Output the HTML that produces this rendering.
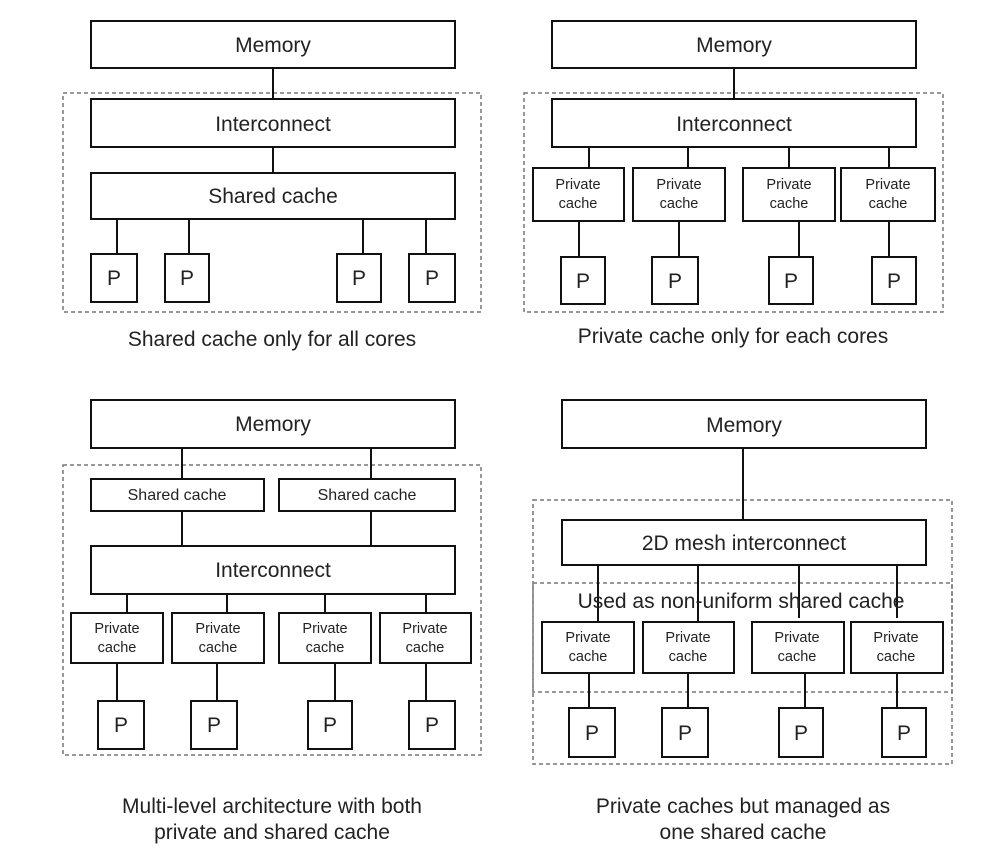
<!DOCTYPE html>
<html><head><meta charset="utf-8"><style>
html,body{margin:0;padding:0;background:#fff;}
svg{display:block;}
text{font-family:"Liberation Sans",sans-serif;fill:#222;text-anchor:middle;}
.b{fill:#fff;stroke:#111;stroke-width:2;}
.d{fill:none;stroke:#777;stroke-width:1.5;stroke-dasharray:4,3;}
.l{stroke:#111;stroke-width:2;}
.t{font-size:21px;}
.s{font-size:14.5px;}
.m{font-size:16px;}
.c{font-size:21px;}
</style></head><body>
<svg width="1002" height="860" viewBox="0 0 1002 860">
<!-- TL -->
<rect class="d" x="63" y="93" width="418" height="219"/>
<line class="l" x1="273" y1="68" x2="273" y2="99"/>
<line class="l" x1="273" y1="147" x2="273" y2="173"/>
<line class="l" x1="117" y1="219" x2="117" y2="254"/>
<line class="l" x1="189" y1="219" x2="189" y2="254"/>
<line class="l" x1="363" y1="219" x2="363" y2="254"/>
<line class="l" x1="426" y1="219" x2="426" y2="254"/>
<rect class="b" x="91" y="21" width="364" height="47"/><text class="t" x="273" y="52">Memory</text>
<rect class="b" x="91" y="99" width="364" height="48"/><text class="t" x="273" y="131">Interconnect</text>
<rect class="b" x="91" y="173" width="364" height="46"/><text class="t" x="273" y="203">Shared cache</text>
<rect class="b" x="91" y="254" width="46" height="48"/><text class="t" x="114" y="285">P</text>
<rect class="b" x="165" y="254" width="44" height="48"/><text class="t" x="187" y="285">P</text>
<rect class="b" x="337" y="254" width="44" height="48"/><text class="t" x="359" y="285">P</text>
<rect class="b" x="409" y="254" width="46" height="48"/><text class="t" x="432" y="285">P</text>
<text class="c" x="272" y="346">Shared cache only for all cores</text>
<!-- TR -->
<rect class="d" x="524" y="93" width="419" height="219"/>
<line class="l" x1="734" y1="68" x2="734" y2="99"/>
<line class="l" x1="589" y1="147" x2="589" y2="168"/>
<line class="l" x1="688" y1="147" x2="688" y2="168"/>
<line class="l" x1="789" y1="147" x2="789" y2="168"/>
<line class="l" x1="889" y1="147" x2="889" y2="168"/>
<line class="l" x1="579" y1="221" x2="579" y2="257"/>
<line class="l" x1="679" y1="221" x2="679" y2="257"/>
<line class="l" x1="799" y1="221" x2="799" y2="257"/>
<line class="l" x1="889" y1="221" x2="889" y2="257"/>
<rect class="b" x="552" y="21" width="364" height="47"/><text class="t" x="734" y="52">Memory</text>
<rect class="b" x="552" y="99" width="364" height="48"/><text class="t" x="734" y="131">Interconnect</text>
<rect class="b" x="533" y="168" width="91" height="53"/><text class="s" x="578" y="189">Private</text><text class="s" x="578" y="208">cache</text>
<rect class="b" x="633" y="168" width="92" height="53"/><text class="s" x="679" y="189">Private</text><text class="s" x="679" y="208">cache</text>
<rect class="b" x="743" y="168" width="92" height="53"/><text class="s" x="789" y="189">Private</text><text class="s" x="789" y="208">cache</text>
<rect class="b" x="841" y="168" width="94" height="53"/><text class="s" x="888" y="189">Private</text><text class="s" x="888" y="208">cache</text>
<rect class="b" x="561" y="257" width="44" height="47"/><text class="t" x="583" y="288">P</text>
<rect class="b" x="652" y="257" width="46" height="47"/><text class="t" x="675" y="288">P</text>
<rect class="b" x="769" y="257" width="44" height="47"/><text class="t" x="791" y="288">P</text>
<rect class="b" x="872" y="257" width="44" height="47"/><text class="t" x="894" y="288">P</text>
<text class="c" x="733" y="343">Private cache only for each cores</text>
<!-- BL -->
<rect class="d" x="63" y="465" width="418" height="290"/>
<line class="l" x1="182" y1="448" x2="182" y2="479"/>
<line class="l" x1="371" y1="448" x2="371" y2="479"/>
<line class="l" x1="182" y1="511" x2="182" y2="546"/>
<line class="l" x1="371" y1="511" x2="371" y2="546"/>
<line class="l" x1="127" y1="594" x2="127" y2="613"/>
<line class="l" x1="227" y1="594" x2="227" y2="613"/>
<line class="l" x1="325" y1="594" x2="325" y2="613"/>
<line class="l" x1="426" y1="594" x2="426" y2="613"/>
<line class="l" x1="117" y1="663" x2="117" y2="701"/>
<line class="l" x1="217" y1="663" x2="217" y2="701"/>
<line class="l" x1="335" y1="663" x2="335" y2="701"/>
<line class="l" x1="426" y1="663" x2="426" y2="701"/>
<rect class="b" x="91" y="400" width="364" height="48"/><text class="t" x="273" y="431">Memory</text>
<rect class="b" x="91" y="479" width="173" height="32"/><text class="m" x="177" y="500">Shared cache</text>
<rect class="b" x="279" y="479" width="176" height="32"/><text class="m" x="367" y="500">Shared cache</text>
<rect class="b" x="91" y="546" width="364" height="48"/><text class="t" x="273" y="577">Interconnect</text>
<rect class="b" x="71" y="613" width="92" height="50"/><text class="s" x="117" y="633">Private</text><text class="s" x="117" y="652">cache</text>
<rect class="b" x="172" y="613" width="92" height="50"/><text class="s" x="218" y="633">Private</text><text class="s" x="218" y="652">cache</text>
<rect class="b" x="279" y="613" width="92" height="50"/><text class="s" x="325" y="633">Private</text><text class="s" x="325" y="652">cache</text>
<rect class="b" x="380" y="613" width="91" height="50"/><text class="s" x="425" y="633">Private</text><text class="s" x="425" y="652">cache</text>
<rect class="b" x="98" y="701" width="46" height="48"/><text class="t" x="121" y="732">P</text>
<rect class="b" x="191" y="701" width="46" height="48"/><text class="t" x="214" y="732">P</text>
<rect class="b" x="308" y="701" width="44" height="48"/><text class="t" x="330" y="732">P</text>
<rect class="b" x="409" y="701" width="46" height="48"/><text class="t" x="432" y="732">P</text>
<text class="c" x="272" y="813">Multi-level architecture with both</text>
<text class="c" x="272" y="839">private and shared cache</text>
<!-- BR -->
<rect class="d" x="533" y="500" width="419" height="264"/>
<rect class="d" x="533" y="583" width="419" height="109"/>
<line class="l" x1="743" y1="448" x2="743" y2="520"/>
<line class="l" x1="598" y1="565" x2="598" y2="622"/>
<line class="l" x1="698" y1="565" x2="698" y2="622"/>
<line class="l" x1="799" y1="565" x2="799" y2="618"/>
<line class="l" x1="897" y1="565" x2="897" y2="618"/>
<line class="l" x1="589" y1="673" x2="589" y2="708"/>
<line class="l" x1="688" y1="673" x2="688" y2="708"/>
<line class="l" x1="805" y1="673" x2="805" y2="708"/>
<line class="l" x1="897" y1="673" x2="897" y2="708"/>
<rect class="b" x="562" y="400" width="364" height="48"/><text class="t" x="744" y="432">Memory</text>
<rect class="b" x="562" y="520" width="364" height="45"/><text class="t" x="744" y="550">2D mesh interconnect</text>
<text class="t" x="741" y="608">Used as non-uniform shared cache</text>
<rect class="b" x="542" y="622" width="92" height="51"/><text class="s" x="588" y="642">Private</text><text class="s" x="588" y="661">cache</text>
<rect class="b" x="643" y="622" width="91" height="51"/><text class="s" x="688" y="642">Private</text><text class="s" x="688" y="661">cache</text>
<rect class="b" x="752" y="622" width="92" height="51"/><text class="s" x="797" y="642">Private</text><text class="s" x="797" y="661">cache</text>
<rect class="b" x="851" y="622" width="92" height="51"/><text class="s" x="896" y="642">Private</text><text class="s" x="896" y="661">cache</text>
<rect class="b" x="569" y="708" width="46" height="49"/><text class="t" x="592" y="740">P</text>
<rect class="b" x="662" y="708" width="46" height="49"/><text class="t" x="685" y="740">P</text>
<rect class="b" x="779" y="708" width="44" height="49"/><text class="t" x="801" y="740">P</text>
<rect class="b" x="882" y="708" width="44" height="49"/><text class="t" x="904" y="740">P</text>
<text class="c" x="743" y="813">Private caches but managed as</text>
<text class="c" x="743" y="839">one shared cache</text>
</svg>
</body></html>
